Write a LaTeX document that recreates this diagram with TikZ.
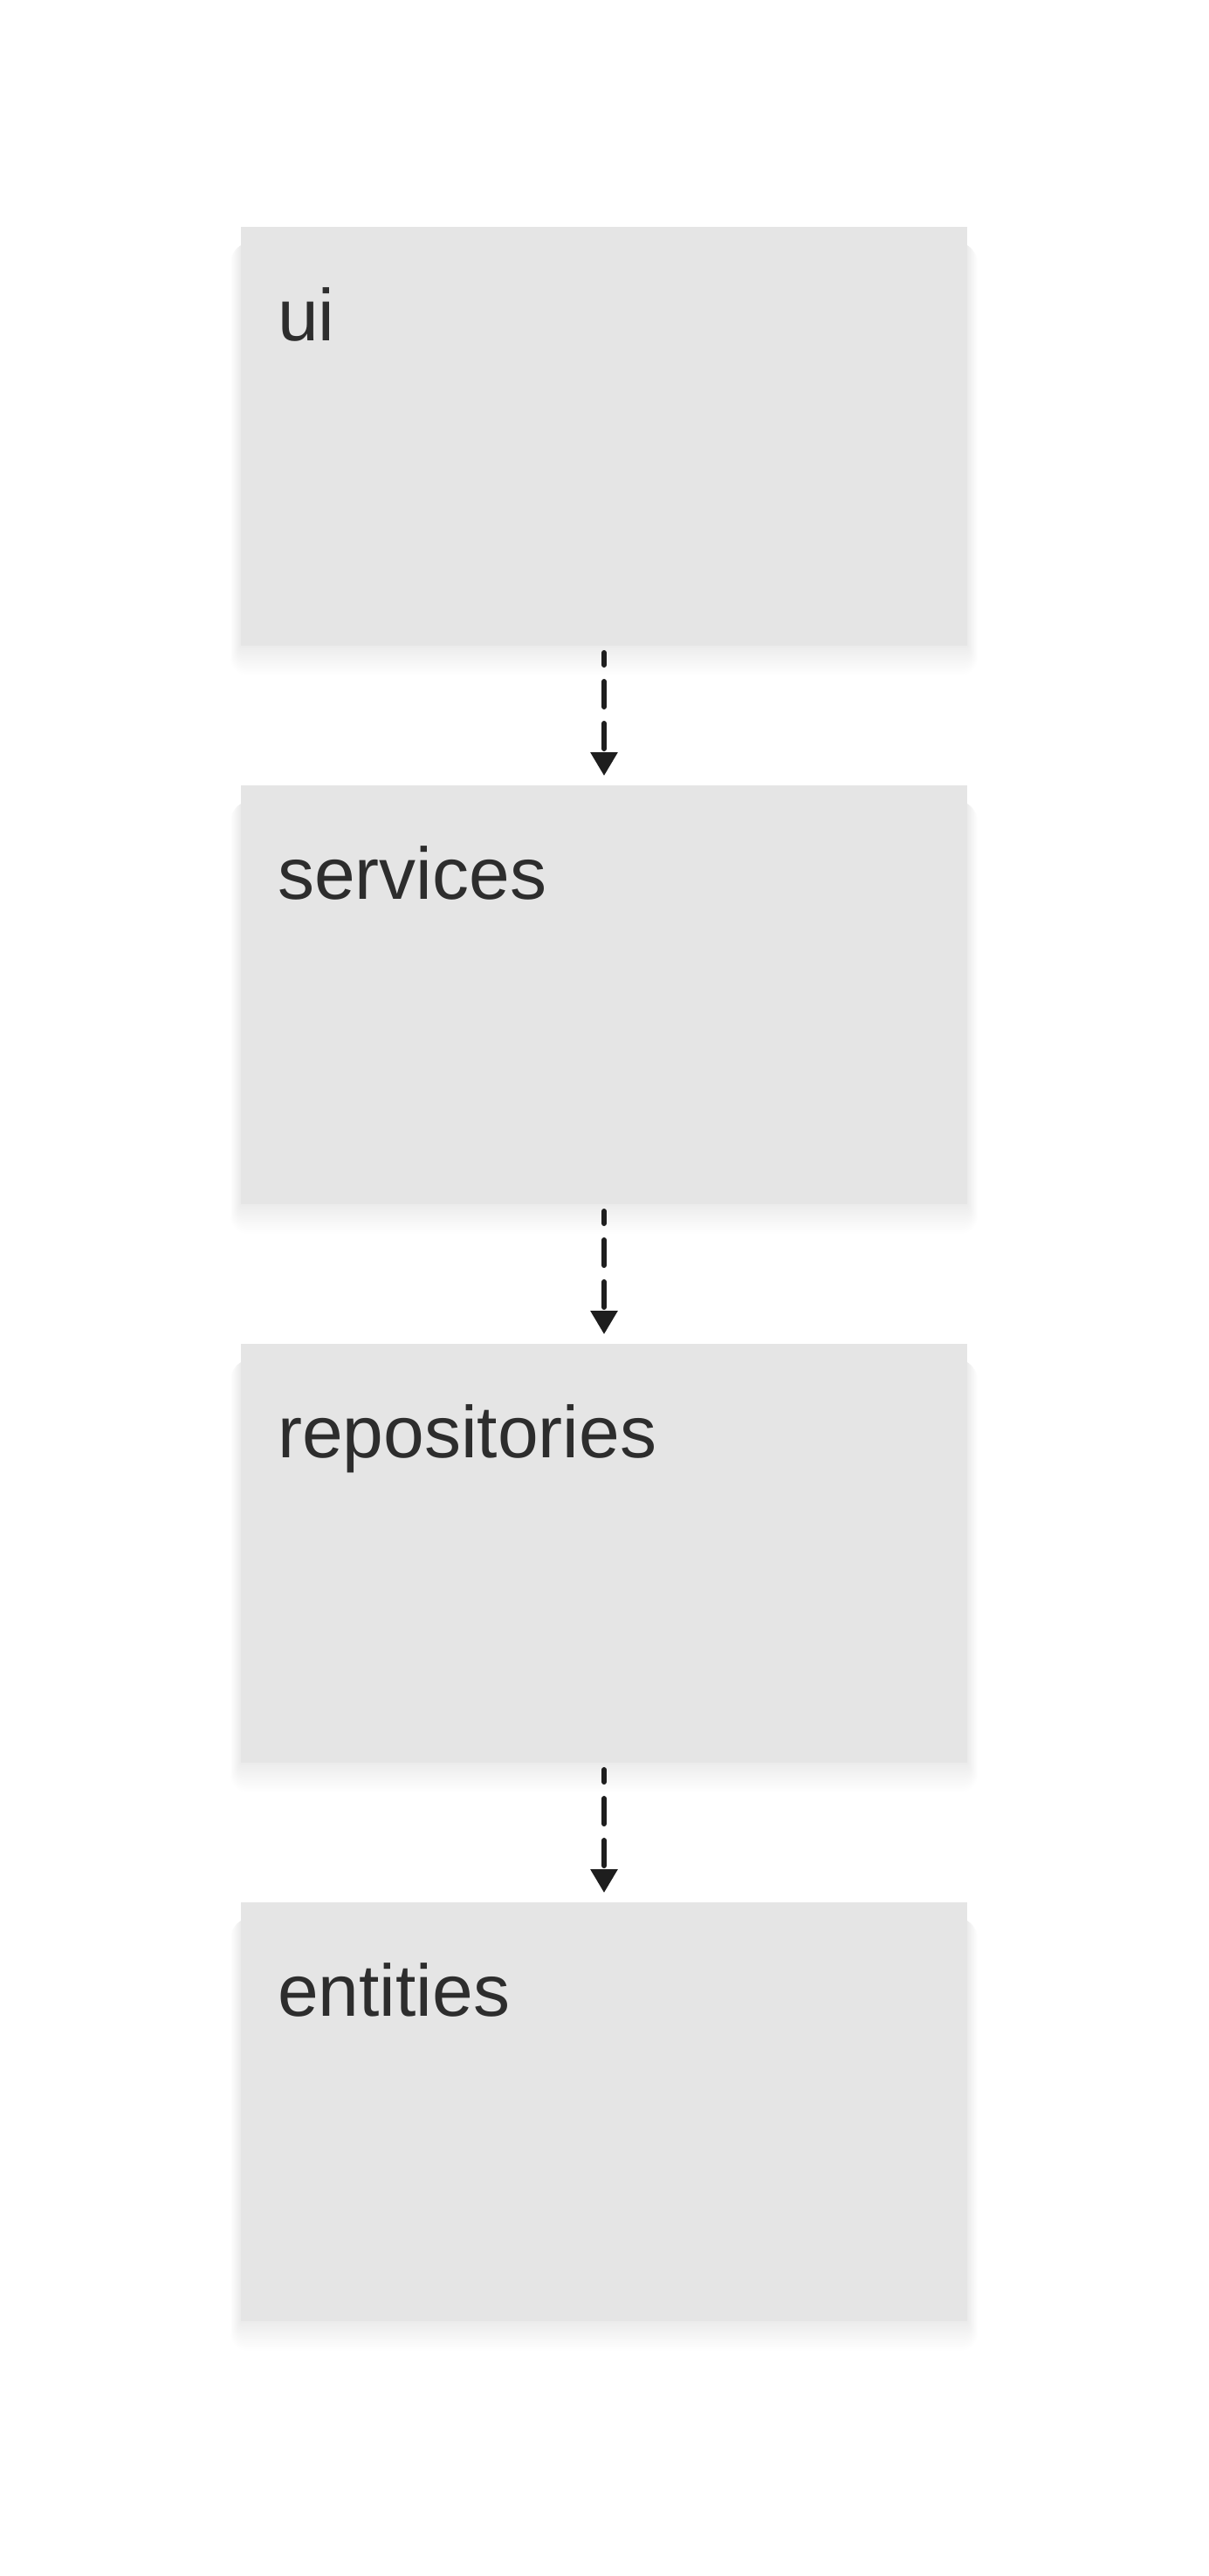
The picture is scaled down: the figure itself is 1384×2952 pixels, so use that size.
\documentclass[tikz,border=0pt]{standalone}
\usepackage{fontspec}
\setmainfont{Liberation Sans}
\usetikzlibrary{arrows.meta}
\definecolor{boxfill}{HTML}{E5E5E5}
\definecolor{labelcol}{HTML}{2D2D2D}
\definecolor{arrowcol}{HTML}{1E1E1E}
\tikzset{
  layerbox/.style={fill=boxfill, draw=none, minimum width=832pt, minimum height=480pt, inner sep=0pt, outer sep=0pt},
  layerlabel/.style={anchor=base west, inner sep=0pt, text=labelcol, font=\fontsize{84pt}{100pt}\selectfont},
  deparrow/.style={draw=arrowcol, line width=6pt, line cap=round, dash pattern=on 29pt off 19pt, dash phase=15pt,
    -{Triangle[width=30pt,length=27pt]}, shorten <=8pt, shorten >=11pt}
}
\newcommand{\softshadow}[1]{%
  \foreach \i in {1,...,20}{%
    \fill[black, opacity=0.004, rounded corners=\i pt]
      ([xshift=-\i*0.6pt, yshift=-20pt]#1.north west) rectangle ([xshift=\i*0.6pt, yshift=2pt-\i*1.8pt]#1.south east);
  }%
}
\begin{document}
\begin{tikzpicture}[x=1pt,y=1pt]
\useasboundingbox[fill=white] (0,0) rectangle (1384,-2952);
\path (692,-500) node[layerbox] (ui) {}
      (692,-1140) node[layerbox] (services) {}
      (692,-1780) node[layerbox] (repositories) {}
      (692,-2420) node[layerbox] (entities) {};
\softshadow{ui}
\softshadow{services}
\softshadow{repositories}
\softshadow{entities}
\foreach \n in {ui,services,repositories,entities}{
  \fill[boxfill] (\n.north west) rectangle (\n.south east);
}
\node[layerlabel] (uilabel) at ([xshift=42pt,yshift=-130pt]ui.north west) {ui};
\node[layerlabel] (serviceslabel) at ([xshift=42pt,yshift=-130pt]services.north west) {services};
\node[layerlabel] (repositorieslabel) at ([xshift=42pt,yshift=-130pt]repositories.north west) {repositories};
\node[layerlabel] (entitieslabel) at ([xshift=42pt,yshift=-130pt]entities.north west) {entities};
\draw[deparrow] (ui.south) -- (services.north);
\draw[deparrow] (services.south) -- (repositories.north);
\draw[deparrow] (repositories.south) -- (entities.north);
\end{tikzpicture}
\end{document}
